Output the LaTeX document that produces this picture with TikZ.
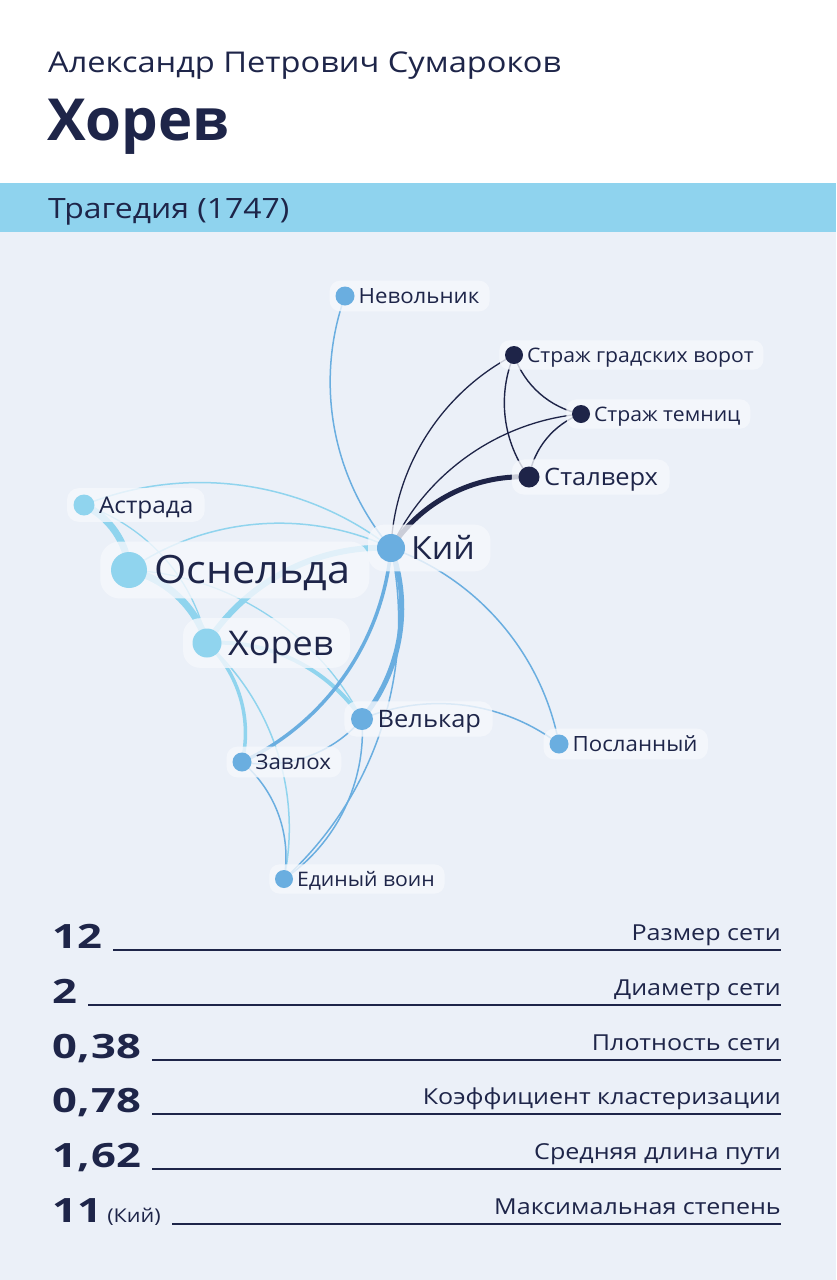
\documentclass[tikz,border=0pt]{standalone}
\usepackage{fontspec}
\setmainfont{Open Sans}[FakeStretch=1.06]
\newfontfamily\headfont{Open Sans}[FakeStretch=1.14]
\newfontfamily\titlefont{Open Sans}
\newfontfamily\numfont{Open Sans}[FakeStretch=1.3]
\usetikzlibrary{calc}
\definecolor{ink}{HTML}{1E2549}
\definecolor{band}{HTML}{8FD3EE}
\definecolor{paper}{HTML}{EBF0F8}
\definecolor{pillc}{HTML}{F6F8FC}
\definecolor{lightb}{HTML}{90D4EE}
\definecolor{medb}{HTML}{6AAEE0}
\definecolor{darkn}{HTML}{1E2448}
\pgfdeclarelayer{bglayer}
\pgfdeclarelayer{edgelayer}
\pgfdeclarelayer{pilllayer}
\pgfsetlayers{bglayer,edgelayer,pilllayer,main}
\tikzset{
  dotn/.style={circle, inner sep=0pt, draw=none},
  labn/.style={inner sep=0pt, text=ink, text depth=0pt},
  arcl/.style={bend left=30, looseness=0.91},
  arcr/.style={bend right=30, looseness=0.91},
  eL/.style={draw=lightb, line width=1.5pt},
  eM/.style={draw=medb, line width=1.5pt},
  eD/.style={draw=darkn, line width=1.4pt},
  numn/.style={inner sep=0pt, anchor=base west, text=ink, font=\numfont\bfseries\fontsize{33.5pt}{33.5pt}\selectfont},
  statl/.style={inner sep=0pt, anchor=base east, text=ink, font=\headfont\fontsize{22pt}{22pt}\selectfont},
  statline/.style={draw=ink, line width=2pt},
}
\newcommand\cm{,\kern1.5pt}
\newcommand\charnode[7]{%
  \pgfmathsetmacro\capht{0.714*#6}%
  \pgfmathsetmacro\txgap{0.18*#6}%
  \pgfmathsetmacro\pillr{0.5*#6}%
  \pgfmathsetmacro\pillh{0.73*#6}%
  \pgfmathsetmacro\pilll{0.27*#6}%
  \pgfmathsetmacro\pillrr{0.48*#6}%
  \node[dotn, fill=#5, minimum size=#4pt] (#1) at (#2,-#3) {};
  \node[labn, font=\fontsize{#6pt}{#6pt}\selectfont, text height=\capht pt, anchor=west] (#1t) at ([xshift=\txgap pt]#1.east) {#7};
  \begin{pgfonlayer}{pilllayer}
  \fill[pillc, opacity=0.8, rounded corners=\pillr pt] ([xshift=-\pilll pt, yshift=-\pillh pt]#1.west) rectangle ([xshift=\pillrr pt, yshift=\pillh pt]#1t.east);
  \end{pgfonlayer}
}
\begin{document}
\begin{tikzpicture}[x=1pt,y=1pt]
\useasboundingbox (0,0) rectangle (836,-1280);
\begin{pgfonlayer}{bglayer}
\fill[white] (0,0) rectangle (836,-183);
\fill[band] (0,-183) rectangle (836,-232);
\fill[paper] (0,-232) rectangle (836,-1280);
\end{pgfonlayer}
% header
\node[inner sep=0pt, anchor=base west, text=ink, font=\headfont\fontsize{28.6pt}{28.6pt}\selectfont] (author) at (48,-72) {Александр Петрович Сумароков};
\node[inner sep=0pt, anchor=base west, text=ink, font=\titlefont\bfseries\fontsize{58pt}{58pt}\selectfont] (title) at (47,-140) {Хорев};
\node[inner sep=0pt, anchor=base west, text=ink, font=\headfont\fontsize{28pt}{28pt}\selectfont] (genre) at (48,-218) {Трагедия (1747)};
% characters
\charnode{nev}{345}{296}{19}{medb}{21}{Невольник}
\charnode{sgv}{514}{355}{18}{darkn}{20}{Страж градских ворот}
\charnode{stt}{581}{414}{18}{darkn}{20}{Страж темниц}
\charnode{stal}{529}{477}{21}{darkn}{24}{Сталверх}
\charnode{ast}{84}{505}{21}{lightb}{23}{Астрада}
\charnode{osn}{129}{570}{36}{lightb}{39}{Оснельда}
\charnode{kiy}{391}{548}{28}{medb}{32}{Кий}
\charnode{hor}{207}{643}{29}{lightb}{34}{Хорев}
\charnode{vel}{362}{719}{22}{medb}{24}{Велькар}
\charnode{zav}{242}{762}{19}{medb}{21}{Завлох}
\charnode{pos}{559}{744}{19}{medb}{21}{Посланный}
\charnode{edv}{284}{879}{18}{medb}{20}{Единый воин}
% edges
\begin{pgfonlayer}{edgelayer}
\draw[eD, line width=1.3pt] (kiy.center) to[arcl] (sgv.center);
\draw[eD, line width=1.3pt] (kiy.center) to[arcl] (stt.center);
\draw[eD, line width=5pt] (kiy.center) to[arcl] (stal.center);
\draw[eD] (sgv.center) to[arcr] (stt.center);
\draw[eD] (sgv.center) to[arcr] (stal.center);
\draw[eD] (stt.center) to[arcr] (stal.center);
\draw[eM] (nev.center) to[arcr] (kiy.center);
\draw[eL, line width=7pt] (ast.center) to[arcl] (osn.center);
\draw[eL] (ast.center) to[arcl] (kiy.center);
\draw[eL, line width=1.3pt] (ast.center) to[arcl] (hor.center);
\draw[eL] (osn.center) to[arcl] (kiy.center);
\draw[eL, line width=7pt] (osn.center) to[arcl] (hor.center);
\draw[eL, line width=1.3pt] (osn.center) to[arcl] (vel.center);
\draw[eL, line width=6pt] (hor.center) to[arcl] (kiy.center);
\draw[eL, line width=4pt] (hor.center) to[arcl] (vel.center);
\draw[eL, line width=3.5pt] (hor.center) to[arcl] (zav.center);
\draw[eL] (hor.center) to[arcl] (edv.center);
\draw[eM, line width=5pt] (kiy.center) to[arcl] (vel.center);
\draw[eM, line width=3.5pt] (kiy.center) to[arcl] (zav.center);
\draw[eM] (kiy.center) to[arcl] (edv.center);
\draw[eM] (kiy.center) to[arcl] (pos.center);
\draw[eM] (vel.center) to[arcl] (pos.center);
\draw[eM] (vel.center) to[arcl] (zav.center);
\draw[eM] (vel.center) to[arcl] (edv.center);
\draw[eM] (zav.center) to[arcl] (edv.center);
\end{pgfonlayer}
% statistics
\node[numn] (n1) at (52,-948) {12};
\node[statl] (l1) at (781,-940) {Размер сети};
\coordinate (r1) at (781,-949.5);
\draw[statline] ([xshift=11pt,yshift=-1.5pt]n1.base east) -- (r1);
\node[numn] (n2) at (52,-1003) {2};
\node[statl] (l2) at (781,-995) {Диаметр сети};
\coordinate (r2) at (781,-1004.5);
\draw[statline] ([xshift=11pt,yshift=-1.5pt]n2.base east) -- (r2);
\node[numn] (n3) at (52,-1058) {0\cm 38};
\node[statl] (l3) at (781,-1050) {Плотность сети};
\coordinate (r3) at (781,-1059.5);
\draw[statline] ([xshift=11pt,yshift=-1.5pt]n3.base east) -- (r3);
\node[numn] (n4) at (52,-1112) {0\cm 78};
\node[statl] (l4) at (781,-1104) {Коэффициент кластеризации};
\coordinate (r4) at (781,-1113.5);
\draw[statline] ([xshift=11pt,yshift=-1.5pt]n4.base east) -- (r4);
\node[numn] (n5) at (52,-1167) {1\cm 62};
\node[statl] (l5) at (781,-1159) {Средняя длина пути};
\coordinate (r5) at (781,-1168.5);
\draw[statline] ([xshift=11pt,yshift=-1.5pt]n5.base east) -- (r5);
\node[numn] (n6) at (52,-1222) {11};
\node[inner sep=0pt, anchor=base west, text=ink, font=\headfont\fontsize{19pt}{19pt}\selectfont] (n6k) at ([xshift=5pt]n6.base east) {(Кий)};
\node[statl] (l6) at (781,-1214) {Максимальная степень};
\coordinate (r6) at (781,-1223.5);
\draw[statline] ([xshift=11pt,yshift=-1.5pt]n6k.base east) -- (r6);
\end{tikzpicture}
\end{document}
